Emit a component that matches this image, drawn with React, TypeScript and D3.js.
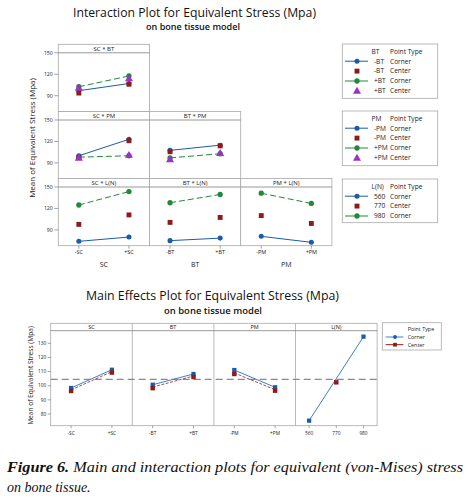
import React from "react";
import * as d3 from "d3";

// ---------- data ----------
const scLevels = ["-SC", "+SC"];
const btLevels = ["-BT", "+BT"];
const pmLevels = ["-PM", "+PM"];
const lnLevels = ["560", "770", "980"];
const interTicks = [90, 120, 150];
const mainTicks = [80, 90, 100, 110, 120, 130];

// SC * BT
const scbtMinusBTCorner = [97, 107];
const scbtMinusBTCenter = [93.7, 106];
const scbtPlusBTCorner = [102.5, 117.6];
const scbtPlusBTCenter = [101, 114];
// SC * PM
const scpmMinusPMCorner = [100, 123];
const scpmMinusPMCenter = [97.5, 121];
const scpmPlusPMCorner = [98, 100];
const scpmPlusPMCenter = [97, 101];
// BT * PM
const btpmMinusPMCorner = [107.5, 114.8];
const btpmMinusPMCenter = [105.6, 113.8];
const btpmPlusPMCorner = [97, 102.8];
const btpmPlusPMCenter = [95, 103.6];
// * L(N)
const scln560 = [74, 80];
const scln770 = [97.7, 111];
const scln980 = [124.8, 143.6];
const btln560 = [75, 78.5];
const btln770 = [100.5, 107.4];
const btln980 = [128, 139.5];
const pmln560 = [81, 72.6];
const pmln770 = [110, 99];
const pmln980 = [141.3, 127];

// Main effects
const mainSCCorner = [98.4, 111.3];
const mainSCCenter = [97, 110];
const mainBTCorner = [100.7, 108.3];
const mainBTCenter = [99, 106.9];
const mainPMCorner = [111.1, 98.9];
const mainPMCenter = [109, 97.2];
const mainLNCorner = [75.3, 134.7]; // at 560, 980
const mainLNCenter = [103.1]; // at 770
const grandMean = 104.5;

// ---------- style ----------
const COL = {
  blue: "#1b5ca8",
  lblue: "#3f7fca",
  red: "#8e1b1b",
  lred: "#b54848",
  green: "#1f8b3a",
  lgreen: "#5fae6c",
  purple: "#9b33c4",
  border: "#a9a9a9",
  header: "#7d7d7d",
  text: "#222",
};
const FONT = "'Open Sans', 'Noto Sans', sans-serif";

type Kind = "blueCorner" | "redCenter" | "greenCorner" | "purpleCenter";

const symPath = (type: any, size: number) => d3.symbol().type(type).size(size)() as string;

function Marker({ kind, x, y }: { kind: Kind; x: number; y: number }) {
  if (kind === "blueCorner")
    return <path d={symPath(d3.symbolCircle, 20)} transform={`translate(${x},${y})`} fill={COL.blue} />;
  if (kind === "greenCorner")
    return <path d={symPath(d3.symbolCircle, 22)} transform={`translate(${x},${y})`} fill={COL.green} />;
  if (kind === "redCenter")
    return <path d={symPath(d3.symbolSquare, 24)} transform={`translate(${x},${y})`} fill={COL.red} />;
  return <path d={symPath(d3.symbolTriangle, 28)} transform={`translate(${x},${y + 0.5})`} fill={COL.purple} />;
}

// ---------- interaction plot ----------
const IX0 = 58.3;
const ICW = 91.2;
const ROW_TOPS = [44.3, 111.5, 178.5];
const RH = 67.2;
const HH = 8.5;

type Series = { v: number[]; kind: Kind };
type IPanel = { row: number; col: number; title: string; levels: string[]; series: Series[] };

const interPanels: IPanel[] = [
  {
    row: 0, col: 0, title: "SC * BT", levels: scLevels,
    series: [
      { v: scbtMinusBTCorner, kind: "blueCorner" },
      { v: scbtPlusBTCorner, kind: "greenCorner" },
      { v: scbtMinusBTCenter, kind: "redCenter" },
      { v: scbtPlusBTCenter, kind: "purpleCenter" },
    ],
  },
  {
    row: 1, col: 0, title: "SC * PM", levels: scLevels,
    series: [
      { v: scpmMinusPMCorner, kind: "blueCorner" },
      { v: scpmPlusPMCorner, kind: "greenCorner" },
      { v: scpmMinusPMCenter, kind: "redCenter" },
      { v: scpmPlusPMCenter, kind: "purpleCenter" },
    ],
  },
  {
    row: 1, col: 1, title: "BT * PM", levels: btLevels,
    series: [
      { v: btpmMinusPMCorner, kind: "blueCorner" },
      { v: btpmPlusPMCorner, kind: "greenCorner" },
      { v: btpmMinusPMCenter, kind: "redCenter" },
      { v: btpmPlusPMCenter, kind: "purpleCenter" },
    ],
  },
  {
    row: 2, col: 0, title: "SC * L(N)", levels: scLevels,
    series: [
      { v: scln560, kind: "blueCorner" },
      { v: scln980, kind: "greenCorner" },
      { v: scln770, kind: "redCenter" },
    ],
  },
  {
    row: 2, col: 1, title: "BT * L(N)", levels: btLevels,
    series: [
      { v: btln560, kind: "blueCorner" },
      { v: btln980, kind: "greenCorner" },
      { v: btln770, kind: "redCenter" },
    ],
  },
  {
    row: 2, col: 2, title: "PM * L(N)", levels: pmLevels,
    series: [
      { v: pmln560, kind: "blueCorner" },
      { v: pmln980, kind: "greenCorner" },
      { v: pmln770, kind: "redCenter" },
    ],
  },
];

const interAxisNames = ["SC", "BT", "PM"];
const interAxisLevels = [scLevels, btLevels, pmLevels];

function InterPanel({ p }: { p: IPanel }) {
  const x0 = IX0 + p.col * ICW;
  const top = ROW_TOPS[p.row];
  const xs = d3.scalePoint<string>().domain(p.levels).range([x0, x0 + ICW]).padding(0.41);
  const ys = d3.scaleLinear().domain([90, 150]).range([top + HH + 42.9, top + HH]);
  return (
    <g>
      <rect x={x0} y={top} width={ICW} height={RH} fill="white" stroke={COL.border} strokeWidth={0.8} />
      <line x1={x0} x2={x0 + ICW} y1={top + HH} y2={top + HH} stroke={COL.header} strokeWidth={0.8} />
      <text x={x0 + ICW / 2} y={top + 6.5} fontSize={6} textAnchor="middle" fill={COL.text} fontFamily={FONT}>
        {p.title}
      </text>
      {p.series.map((s, i) => {
        const pts = s.v.map((v, j) => [xs(p.levels[j]) as number, ys(v)] as [number, number]);
        const line = d3.line()(pts) as string;
        return (
          <g key={i}>
            {s.kind === "blueCorner" && <path d={line} stroke={COL.blue} strokeWidth={1} fill="none" />}
            {s.kind === "greenCorner" && (
              <path d={line} stroke={COL.green} strokeWidth={1} strokeDasharray="6,3" fill="none" />
            )}
          </g>
        );
      })}
      {p.series.map((s, i) =>
        s.v.map((v, j) => <Marker key={`${i}-${j}`} kind={s.kind} x={xs(p.levels[j]) as number} y={ys(v)} />)
      )}
      {p.col === 0 &&
        interTicks.map((t) => (
          <g key={t}>
            <line x1={x0 - 4} x2={x0} y1={ys(t)} y2={ys(t)} stroke="#666" strokeWidth={0.6} />
            <text x={x0 - 5.5} y={ys(t) + 1.8} fontSize={5.2} textAnchor="end" fill={COL.text} fontFamily={FONT}>
              {t}
            </text>
          </g>
        ))}
      {p.row === 2 &&
        p.levels.map((l) => (
          <g key={l}>
            <line x1={xs(l)} x2={xs(l)} y1={top + RH} y2={top + RH + 3} stroke="#666" strokeWidth={0.6} />
            <text x={xs(l)} y={top + RH + 8.5} fontSize={5.5} textAnchor="middle" fill={COL.text} fontFamily={FONT}>
              {l}
            </text>
          </g>
        ))}
    </g>
  );
}

type LegendRow = { level: string; kind: Kind; line?: "solid" | "dash" };
const btLegendRows: LegendRow[] = [
  { level: "-BT", kind: "blueCorner", line: "solid" },
  { level: "-BT", kind: "redCenter" },
  { level: "+BT", kind: "greenCorner", line: "solid" },
  { level: "+BT", kind: "purpleCenter" },
];
const pmLegendRows: LegendRow[] = [
  { level: "-PM", kind: "blueCorner", line: "solid" },
  { level: "-PM", kind: "redCenter" },
  { level: "+PM", kind: "greenCorner", line: "solid" },
  { level: "+PM", kind: "purpleCenter" },
];
const lnLegendRows: LegendRow[] = [
  { level: "560", kind: "blueCorner", line: "solid" },
  { level: "770", kind: "redCenter" },
  { level: "980", kind: "greenCorner", line: "solid" },
];

function InterLegend({ y, h, factor, rows }: { y: number; h: number; factor: string; rows: LegendRow[] }) {
  const x = 342.3;
  const w = 95.4;
  const rowY = (i: number) => y + 7.3 + i * 9.9;
  return (
    <g fontFamily={FONT} fontSize={6.6} fill={COL.text}>
      <rect x={x} y={y} width={w} height={h} fill="white" stroke={COL.border} strokeWidth={0.8} />
      <text x={371.5} y={rowY(0) + 2.3}>{factor}</text>
      <text x={390} y={rowY(0) + 2.3}>Point Type</text>
      {rows.map((r, i) => {
        const yy = rowY(i + 1);
        const color = r.kind === "blueCorner" ? COL.blue : COL.green;
        return (
          <g key={i}>
            {r.line && <line x1={345} x2={368} y1={yy} y2={yy} stroke={color} strokeWidth={1} />}
            <Marker kind={r.kind} x={357} y={yy} />
            <text x={374} y={yy + 2.3}>{r.level}</text>
            <text x={390} y={yy + 2.3}>{r.kind === "blueCorner" || r.kind === "greenCorner" ? "Corner" : "Center"}</text>
          </g>
        );
      })}
    </g>
  );
}

// ---------- main effects ----------
const MX0 = 50.7;
const MCW = 81.6;
const MTOP = 323.3;
const MBOT = 425.7;
const MHH = 7.4;
const mys = d3.scaleLinear().domain([80, 130]).range([414, 343.3]);

type MPanel = { title: string; levels: string[]; corner: { lv: string[]; v: number[] }; center: { lv: string[]; v: number[] } };
const mainPanels: MPanel[] = [
  { title: "SC", levels: scLevels, corner: { lv: scLevels, v: mainSCCorner }, center: { lv: scLevels, v: mainSCCenter } },
  { title: "BT", levels: btLevels, corner: { lv: btLevels, v: mainBTCorner }, center: { lv: btLevels, v: mainBTCenter } },
  { title: "PM", levels: pmLevels, corner: { lv: pmLevels, v: mainPMCorner }, center: { lv: pmLevels, v: mainPMCenter } },
  {
    title: "L(N)", levels: lnLevels,
    corner: { lv: [lnLevels[0], lnLevels[2]], v: mainLNCorner },
    center: { lv: [lnLevels[1]], v: mainLNCenter },
  },
];

function MainPanel({ p, i }: { p: MPanel; i: number }) {
  const x0 = MX0 + i * MCW;
  const xs = d3.scalePoint<string>().domain(p.levels).range([x0, x0 + MCW]).padding(0.5);
  const cPts = p.corner.v.map((v, j) => [xs(p.corner.lv[j]) as number, mys(v)] as [number, number]);
  const rPts = p.center.v.map((v, j) => [xs(p.center.lv[j]) as number, mys(v)] as [number, number]);
  return (
    <g>
      <line x1={x0} x2={x0 + MCW} y1={MTOP + MHH} y2={MTOP + MHH} stroke={COL.header} strokeWidth={0.8} />
      <text x={x0 + MCW / 2} y={MTOP + 5.8} fontSize={5.5} textAnchor="middle" fill={COL.text} fontFamily={FONT}>
        {p.title}
      </text>
      {rPts.length > 1 && (
        <path d={d3.line()(rPts) as string} stroke={COL.lred} strokeWidth={1} strokeDasharray="3,1.5" fill="none" />
      )}
      {cPts.length > 1 && <path d={d3.line()(cPts) as string} stroke={COL.lblue} strokeWidth={1} fill="none" />}
      {cPts.map((pt, j) => (
        <path key={"c" + j} d={symPath(d3.symbolSquare, 18)} transform={`translate(${pt[0]},${pt[1]})`} fill={COL.blue} />
      ))}
      {rPts.map((pt, j) => (
        <path key={"r" + j} d={symPath(d3.symbolSquare, 20)} transform={`translate(${pt[0]},${pt[1] + 1})`} fill={COL.red} />
      ))}
      {p.levels.map((l) => (
        <g key={l}>
          <line x1={xs(l)} x2={xs(l)} y1={MBOT} y2={MBOT + 2.5} stroke="#666" strokeWidth={0.6} />
          <text x={xs(l)} y={MBOT + 9} fontSize={4.8} textAnchor="middle" fill={COL.text} fontFamily={FONT}>
            {l}
          </text>
        </g>
      ))}
    </g>
  );
}

export default function App() {
  return (
    <svg width={468} height={502} style={{ position: "absolute", left: 0, top: 0, background: "white" }}>
      <rect x={0} y={0} width={468} height={502} fill="white" />
      {/* ---------- Interaction plot ---------- */}
      <text x={73} y={17} fontSize={12} fontFamily={FONT} fill="#111" textLength={243} lengthAdjust="spacingAndGlyphs">
        Interaction Plot for Equivalent Stress (Mpa)
      </text>
      <text x={146} y={30} fontSize={8.6} fontWeight={600} fontFamily={FONT} fill="#111" textLength={94} lengthAdjust="spacingAndGlyphs">
        on bone tissue model
      </text>
      {interPanels.map((p, i) => (
        <InterPanel key={i} p={p} />
      ))}
      <text
        transform="translate(35,138) rotate(-90)"
        textAnchor="middle"
        fontSize={8}
        fontFamily={FONT}
        fill={COL.text}
      >
        Mean of Equivalent Stress (Mpa)
      </text>
      {interAxisNames.map((n, i) => {
        const x0 = IX0 + i * ICW;
        return (
          <text key={n} x={x0 + ICW / 2} y={267} fontSize={7} textAnchor="middle" fontFamily={FONT} fill={COL.text}>
            {n}
          </text>
        );
      })}
      <InterLegend y={44} h={54.3} factor="BT" rows={btLegendRows} />
      <InterLegend y={111} h={54.7} factor="PM" rows={pmLegendRows} />
      <InterLegend y={179} h={43.7} factor="L(N)" rows={lnLegendRows} />

      {/* ---------- Main effects plot ---------- */}
      <text x={86} y={300} fontSize={12} fontFamily={FONT} fill="#111" textLength={253} lengthAdjust="spacingAndGlyphs">
        Main Effects Plot for Equivalent Stress (Mpa)
      </text>
      <text x={164} y={314} fontSize={8.6} fontWeight={600} fontFamily={FONT} fill="#111" textLength={98} lengthAdjust="spacingAndGlyphs">
        on bone tissue model
      </text>
      <rect x={MX0} y={MTOP} width={MCW * 4} height={MBOT - MTOP} fill="white" stroke={COL.border} strokeWidth={0.8} />
      {[1, 2, 3].map((i) => (
        <line key={i} x1={MX0 + i * MCW} x2={MX0 + i * MCW} y1={MTOP} y2={MBOT} stroke={COL.border} strokeWidth={0.8} />
      ))}
      <line
        x1={MX0}
        x2={MX0 + MCW * 4}
        y1={mys(grandMean)}
        y2={mys(grandMean)}
        stroke="#8a8a8a"
        strokeWidth={1.1}
        strokeDasharray="7,4"
      />
      {mainPanels.map((p, i) => (
        <MainPanel key={i} p={p} i={i} />
      ))}
      {mainTicks.map((t) => (
        <g key={t}>
          <line x1={MX0 - 3} x2={MX0} y1={mys(t)} y2={mys(t)} stroke="#666" strokeWidth={0.6} />
          <text x={MX0 - 4.5} y={mys(t) + 1.7} fontSize={4.8} textAnchor="end" fill={COL.text} fontFamily={FONT}>
            {t}
          </text>
        </g>
      ))}
      <text transform="translate(33,375.5) rotate(-90)" textAnchor="middle" fontSize={6.6} fontFamily={FONT} fill={COL.text}>
        Mean of Equivalent Stress (Mpa)
      </text>
      <g fontFamily={FONT} fontSize={5.4} fill={COL.text}>
        <rect x={382.3} y={322.7} width={59} height={27.3} fill="white" stroke={COL.border} strokeWidth={0.8} />
        <text x={407.7} y={330.8}>Point Type</text>
        <line x1={385.7} x2={403.3} y1={337} y2={337} stroke={COL.lblue} strokeWidth={1} />
        <path d={symPath(d3.symbolCircle, 12)} transform="translate(395,337)" fill={COL.blue} />
        <text x={407.7} y={338.9}>Corner</text>
        <line x1={385.7} x2={403.3} y1={344.7} y2={344.7} stroke={COL.red} strokeWidth={1} />
        <path d={symPath(d3.symbolSquare, 14)} transform="translate(395,344.7)" fill={COL.red} />
        <text x={407.7} y={346.6}>Center</text>
      </g>

      {/* ---------- Caption ---------- */}
      <text x={7} y={472} fontSize={14} fontStyle="italic" fontFamily="'Liberation Serif', 'DejaVu Serif', serif" fill="#111" textLength={456} lengthAdjust="spacingAndGlyphs">
        <tspan fontWeight="bold">Figure 6.</tspan> Main and interaction plots for equivalent (von-Mises) stress
      </text>
      <text x={7} y={492} fontSize={14} fontStyle="italic" fontFamily="'Liberation Serif', 'DejaVu Serif', serif" fill="#111">
        on bone tissue.
      </text>
    </svg>
  );
}
